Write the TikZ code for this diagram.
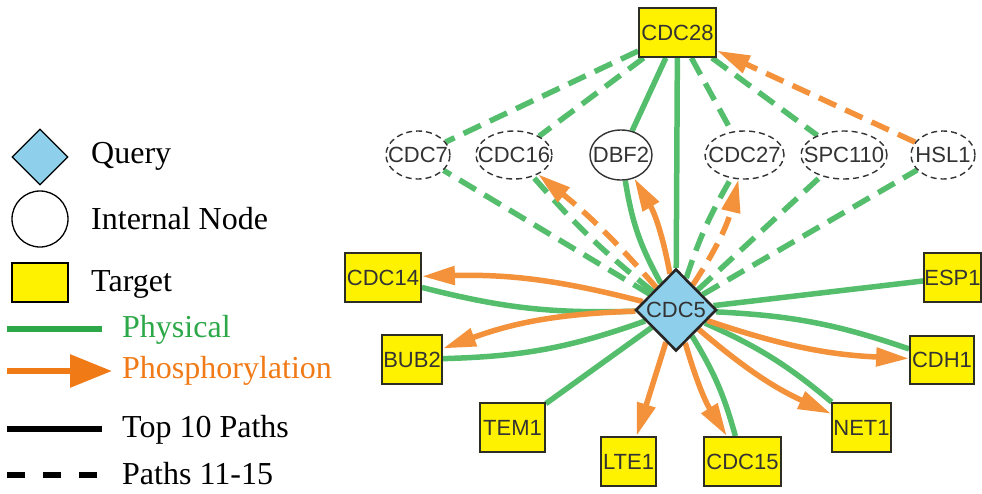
\documentclass[tikz,border=0pt]{standalone}
\usepackage{fontspec}
\setmainfont{Liberation Serif}
\newfontfamily\graphfont{Liberation Sans}
\usetikzlibrary{shapes.geometric,arrows.meta,backgrounds}

\definecolor{egreen}{RGB}{84,190,108}
\definecolor{eorange}{RGB}{243,146,58}
\definecolor{qblue}{RGB}{142,208,235}
\definecolor{lgreen}{RGB}{44,168,72}
\definecolor{lorange}{RGB}{240,122,22}
\definecolor{ink}{RGB}{51,51,51}
\definecolor{boxline}{RGB}{45,45,35}

\newcommand{\zw}[1]{\makebox[0pt]{#1}}

\begin{document}
\begin{tikzpicture}[x=1pt,y=-1pt,
  lbl/.style={font=\graphfont\fontsize{22}{22}\selectfont, text=ink},
  target/.style={lbl, rectangle, draw=boxline, line width=1.8pt, fill=yellow,
    minimum height=49pt, inner sep=0pt},
  internal/.style={lbl, ellipse, draw=ink, line width=1.4pt, fill=white,
    minimum height=48pt, inner sep=0pt, dash pattern=on 6pt off 4pt},
  solidnode/.style={dash pattern=},
  query/.style={lbl, diamond, draw=black!85, line width=2.6pt, fill=qblue,
    minimum width=81pt, minimum height=82pt, inner sep=0pt},
  phys/.style={draw=egreen, line width=5.5pt},
  phos/.style={draw=eorange, line width=5.5pt,
    -{Triangle[length=33pt,width=18pt]}},
  minor/.style={dash pattern=on 19pt off 10pt},
  legtext/.style={font=\fontsize{32}{32}\selectfont, anchor=base west, inner sep=0pt}
]
\useasboundingbox (0,0) rectangle (982,493);

% ---------- graph nodes ----------
\node[query] (cdc5) at (676,310) {CDC5};

\node[target, minimum width=77pt] (cdc28) at (677.5,32.5) {CDC28};
\node[target, minimum width=76pt] (cdc14) at (383,277.5) {CDC14};
\node[target, minimum width=60pt] (bub2)  at (412,359.5) {BUB2};
\node[target, minimum width=65pt] (tem1)  at (512.5,427.5) {TEM1};
\node[target, minimum width=55pt] (lte1)  at (628.5,461.5) {LTE1};
\node[target, minimum width=77pt] (cdc15) at (742.5,461.5) {CDC15};
\node[target, minimum width=59pt] (net1)  at (861.5,427.5) {NET1};
\node[target, minimum width=64pt, minimum height=48pt] (cdh1) at (942,360) {CDH1};
\node[target, minimum width=57pt] (esp1)  at (952.5,277.5) {ESP1};

\node[internal, minimum width=64pt] (cdc7)   at (418,155)   {\zw{CDC7}};
\node[internal, minimum width=76pt] (cdc16)  at (514,155)   {\zw{CDC16}};
\node[internal, solidnode, minimum width=62pt, minimum height=50pt] (dbf2) at (621,155) {\zw{DBF2}};
\node[internal, minimum width=79pt] (cdc27)  at (744.5,155) {\zw{CDC27}};
\node[internal, minimum width=86pt] (spc110) at (844,155)   {\zw{SPC110}};
\node[internal, minimum width=64pt] (hsl1)   at (943,155)   {\zw{HSL1}};

% ---------- interactions ----------
\begin{scope}[on background layer]
  % upper tier: CDC28 to the internal nodes
  \draw[phys, minor] (cdc28) -- (cdc7);
  \draw[phys, minor] (cdc28) -- (cdc16);
  \draw[phys]        (cdc28) -- (dbf2);
  \draw[phys, minor] (cdc28) -- (cdc27);
  \draw[phys, minor] (cdc28) -- (spc110);
  \draw[phos, minor] (hsl1) -- (cdc28);
  \draw[phys]        (cdc28) -- (cdc5);

  % internal nodes to CDC5
  \draw[phys, minor] (cdc5) -- (cdc7);
  \draw[phys, minor] (cdc5) to[bend left=5] (cdc16);
  \draw[phos, minor] (cdc5) to[bend right=5] (cdc16);
  \draw[phys]        (cdc5) to[bend left=10] (dbf2);
  \draw[phos]        (cdc5) to[bend right=10] (dbf2);
  \draw[phys, minor] (cdc5) to[bend left=6] (cdc27);
  \draw[phos, minor] (cdc5) to[bend right=10] (cdc27);
  \draw[phys, minor] (cdc5) -- (spc110);
  \draw[phys, minor] (cdc5) -- (hsl1);

  % CDC5 to the targets
  \draw[phys] (cdc5) to[bend left=8] (cdc14);
  \draw[phos] (cdc5) to[bend right=8] (cdc14);
  \draw[phys] (cdc5) to[bend left=9] (bub2);
  \draw[phos] (cdc5) to[bend right=9] (bub2);
  \draw[phys] (cdc5) -- (tem1);
  \draw[phos] (cdc5) -- (lte1);
  \draw[phys] (cdc5) to[bend left=8] (cdc15);
  \draw[phos] (cdc5) to[bend right=8] (cdc15);
  \draw[phys] (cdc5) to[bend left=8] (net1);
  \draw[phos] (cdc5) to[bend right=8] (net1);
  \draw[phys] (cdc5) to[bend left=8] (cdh1);
  \draw[phos] (cdc5) to[bend right=8] (cdh1);
  \draw[phys] (cdc5) -- (esp1);
\end{scope}

% ---------- legend ----------
\node[diamond, draw=black, line width=1.3pt, fill=qblue, minimum width=56pt,
  minimum height=56pt, inner sep=0pt] (kq) at (40,157) {};
\node[circle, draw=black, line width=1.3pt, fill=white, minimum size=56pt,
  inner sep=0pt] (ki) at (40,219) {};
\node[rectangle, draw=black, line width=1.6pt, fill=yellow, minimum width=56pt,
  minimum height=39pt, inner sep=0pt] (kt) at (40,282.5) {};

\node[legtext] (tq) at (91,163) {Query};
\node[legtext] (ti) at (91,229) {Internal Node};
\node[legtext] (tt) at (91,291) {Target};

\coordinate (pa) at (7,329);   \coordinate (pb) at (102,329);
\coordinate (ha) at (7,371);   \coordinate (hb) at (112,371);
\coordinate (ta) at (7,429);   \coordinate (tb) at (102,429);
\coordinate (da) at (7,475);   \coordinate (db) at (102,475);

\draw[draw=lgreen, line width=6pt] (pa) -- (pb);
\draw[draw=lorange, line width=6pt, -{Triangle[length=42pt,width=32pt]}] (ha) -- (hb);
\draw[draw=black, line width=6pt] (ta) -- (tb);
\draw[draw=black, line width=6pt, dash pattern=on 18pt off 18pt] (da) -- (db);

\node[legtext, text=lgreen]  (tp) at (122,337) {Physical};
\node[legtext, text=lorange] (th) at (122,378) {Phosphorylation};
\node[legtext] (t10) at (122,437) {Top 10 Paths};
\node[legtext] (t15) at (122,484) {Paths 11-15};
\end{tikzpicture}
\end{document}
